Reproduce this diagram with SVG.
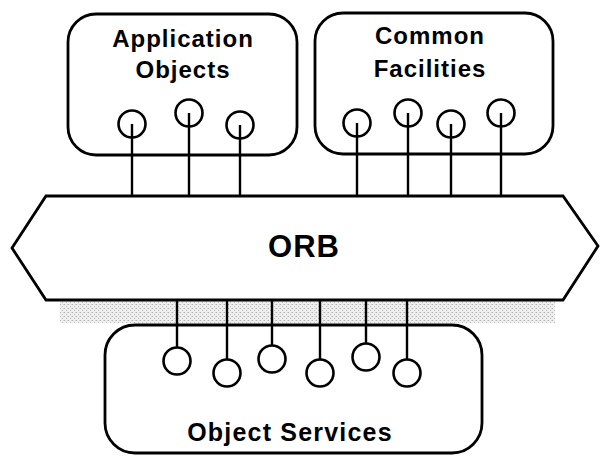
<svg xmlns="http://www.w3.org/2000/svg" width="607" height="457" viewBox="0 0 607 457">
  <style>
    .box { fill: none; stroke: #000; stroke-width: 2.8; }
    .port { fill: none; stroke: #000; stroke-width: 2.6; }
    .wire { stroke: #000; stroke-width: 2.4; fill: none; }
    .label { font-family: "Liberation Sans", Arial, sans-serif; font-weight: bold; fill: #000; text-anchor: middle; }
  </style>
  <defs>
    <pattern id="stipple" width="4" height="4" patternUnits="userSpaceOnUse">
      <rect width="4" height="4" fill="#efefef"/>
      <rect x="0" y="0" width="1" height="1" fill="#b0b0b0"/>
      <rect x="2" y="2" width="1" height="1" fill="#bcbcbc"/>
      <rect x="3" y="0" width="1" height="1" fill="#d0d0d0"/>
    </pattern>
  </defs>
  <rect width="607" height="457" fill="#fff"/>

  <!-- shaded band under the bus -->
  <rect x="60" y="301" width="495" height="22" fill="url(#stipple)"/>

  <!-- connectors: bus drops to each interface -->
  <g id="connectors" class="wire">
    <line x1="132" y1="124" x2="132" y2="196"/>
    <line x1="189" y1="113" x2="189" y2="196"/>
    <line x1="240" y1="125" x2="240" y2="196"/>
    <line x1="357" y1="123" x2="357" y2="196"/>
    <line x1="408" y1="113" x2="408" y2="196"/>
    <line x1="451" y1="124" x2="451" y2="196"/>
    <line x1="501" y1="113" x2="501" y2="196"/>
    <line x1="177" y1="300" x2="177" y2="347"/>
    <line x1="227" y1="300" x2="227" y2="359"/>
    <line x1="272" y1="300" x2="272" y2="345"/>
    <line x1="320" y1="300" x2="320" y2="359"/>
    <line x1="366" y1="300" x2="366" y2="343"/>
    <line x1="407" y1="300" x2="407" y2="359"/>
  </g>

  <g id="application-objects">
    <rect class="box" x="68" y="14" width="229" height="141" rx="28"/>
    <text class="label" x="183" y="47" font-size="24" letter-spacing="1">Application</text>
    <text class="label" x="183" y="78" font-size="24" letter-spacing="1">Objects</text>
    <circle class="port" cx="132" cy="124" r="13.5"/>
    <circle class="port" cx="189" cy="113" r="13.5"/>
    <circle class="port" cx="240" cy="125" r="13.5"/>
  </g>

  <g id="common-facilities">
    <rect class="box" x="315" y="13" width="238" height="141" rx="28"/>
    <text class="label" x="430" y="44" font-size="24" letter-spacing="1">Common</text>
    <text class="label" x="430" y="77" font-size="24" letter-spacing="1">Facilities</text>
    <circle class="port" cx="357" cy="123" r="13.5"/>
    <circle class="port" cx="408" cy="113" r="13.5"/>
    <circle class="port" cx="451" cy="124" r="13.5"/>
    <circle class="port" cx="501" cy="113" r="13.5"/>
  </g>

  <g id="orb">
    <polygon class="box" points="46,196 563,196 598,246 563,300 46,300 12,248" style="fill:#fff"/>
    <text class="label" x="304" y="257" font-size="31" letter-spacing="1">ORB</text>
  </g>

  <g id="object-services">
    <rect class="box" x="105" y="325" width="377" height="128" rx="30"/>
    <circle class="port" cx="177" cy="361" r="13.5"/>
    <circle class="port" cx="227" cy="373" r="13.5"/>
    <circle class="port" cx="272" cy="359" r="13.5"/>
    <circle class="port" cx="320" cy="373" r="13.5"/>
    <circle class="port" cx="366" cy="357" r="13.5"/>
    <circle class="port" cx="407" cy="373" r="13.5"/>
    <text class="label" x="290" y="441" font-size="25" letter-spacing="1.2">Object Services</text>
  </g>
</svg>
